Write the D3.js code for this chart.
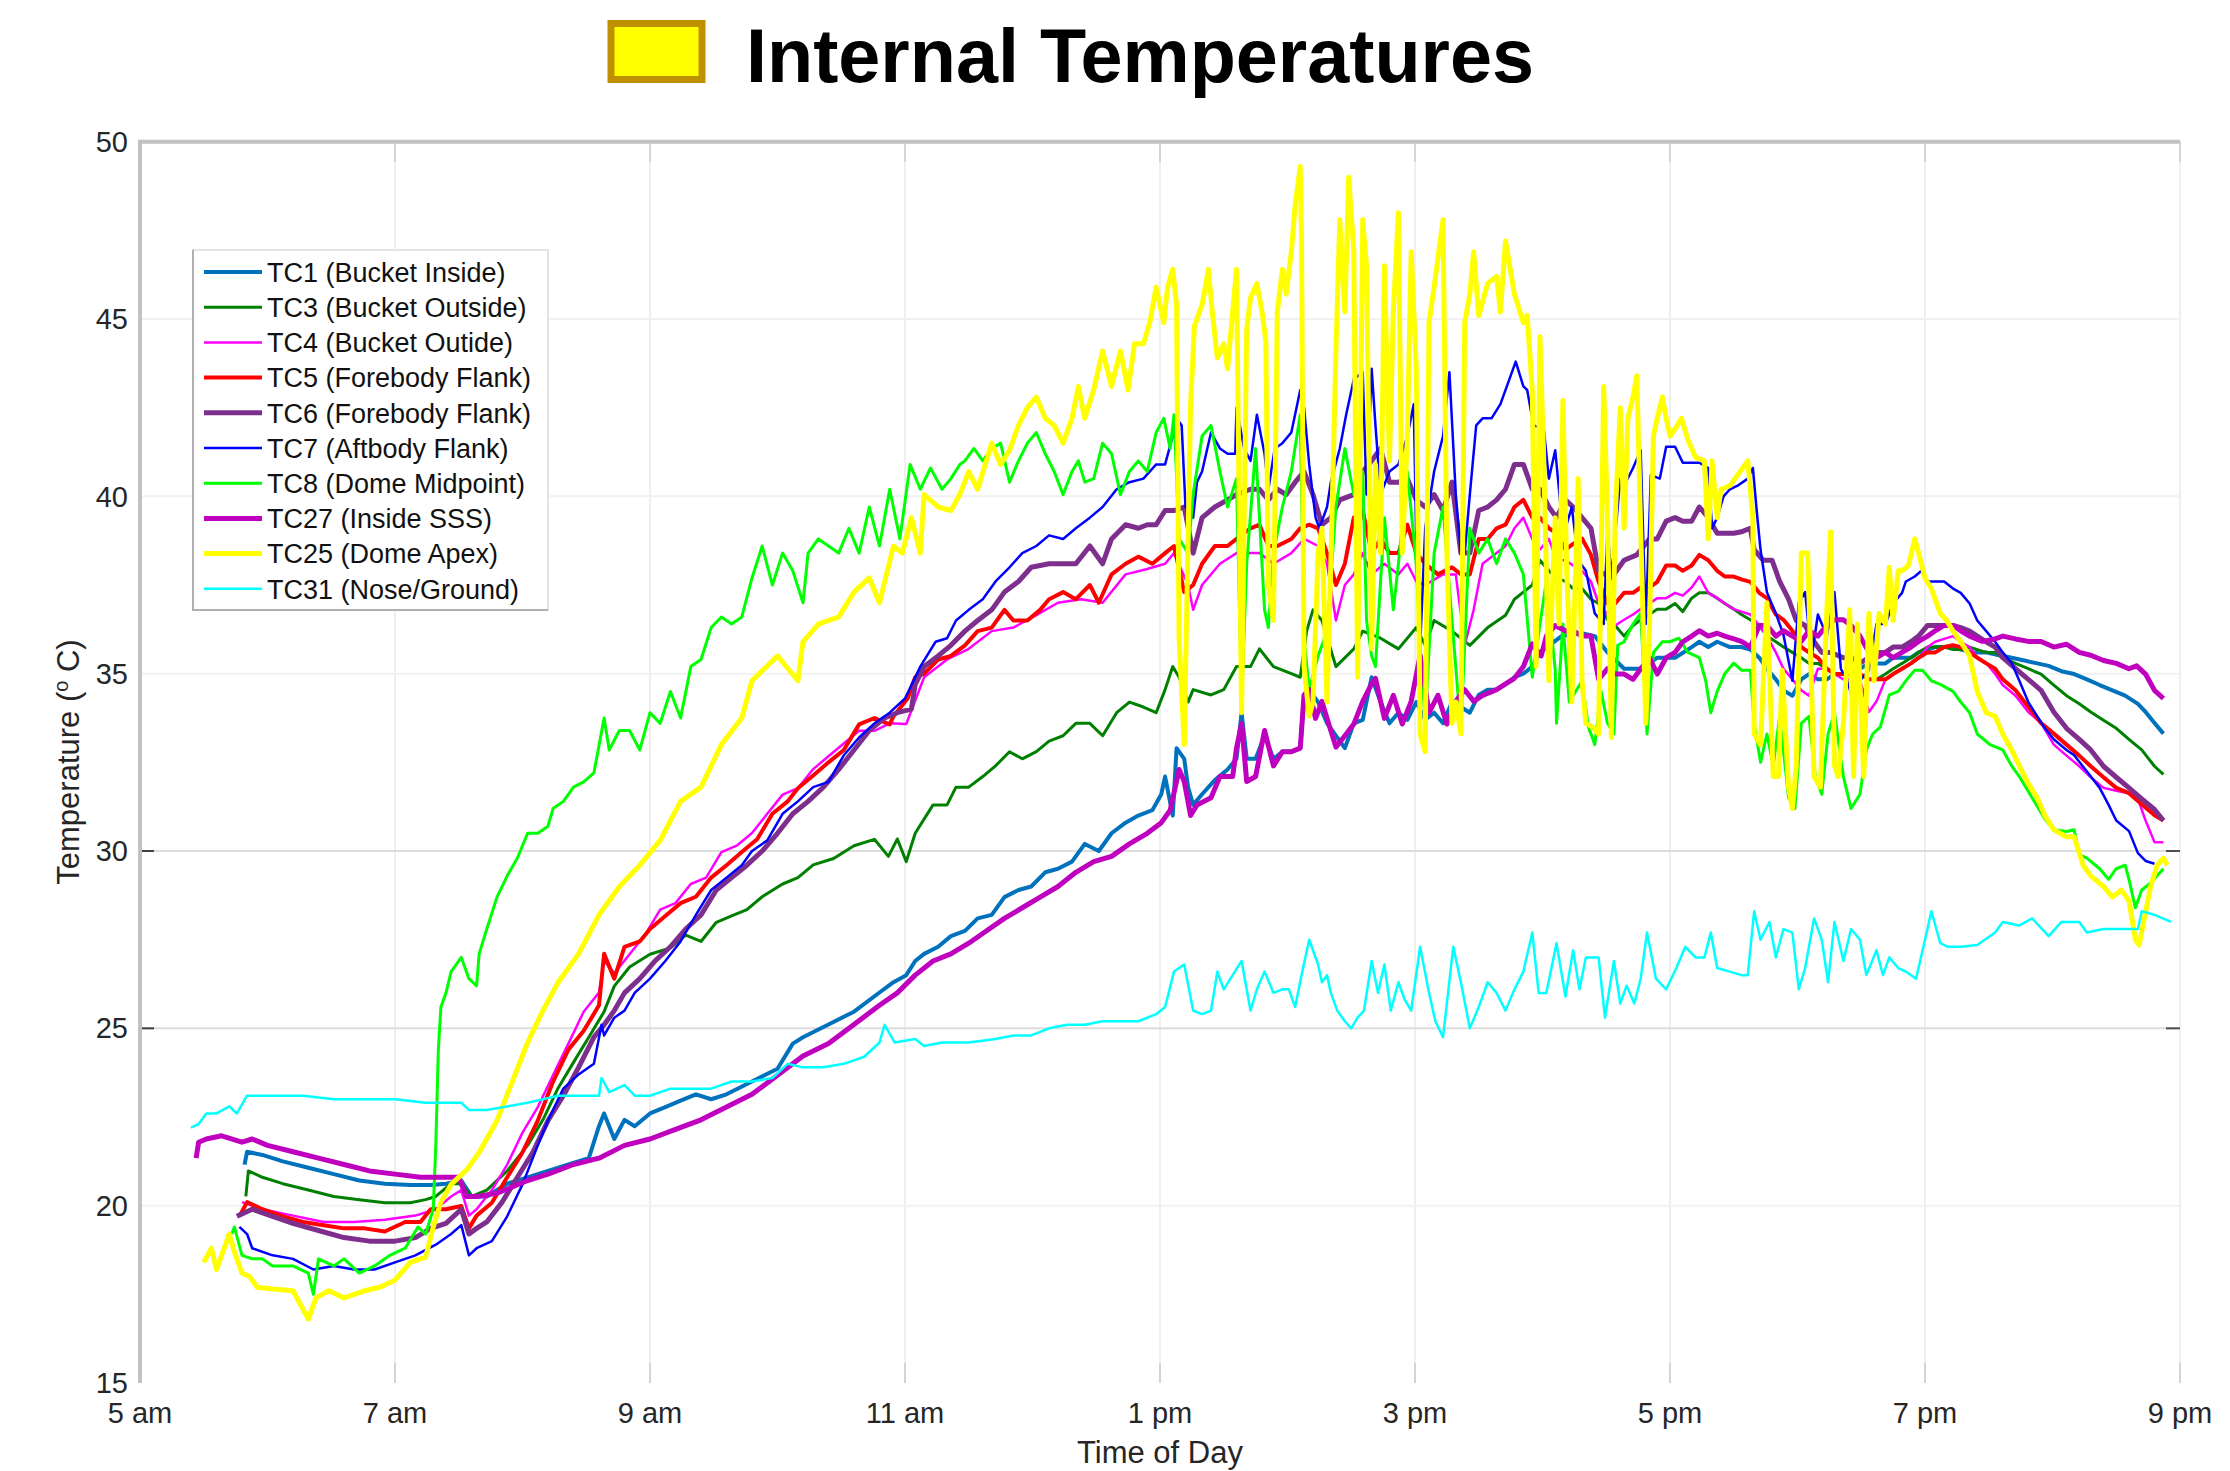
<!DOCTYPE html>
<html><head><meta charset="utf-8">
<script src="https://cdn.jsdelivr.net/npm/d3@7"></script>
<style>
body{margin:0;background:#fff;}
svg{display:block;font-family:"Liberation Sans",Arial,sans-serif;}
</style>
</head><body>
<svg id="chart" width="2230" height="1471"></svg>
<script>
// ---------- data ----------
const titleText = "Internal Temperatures";
const xTickHours = [5,7,9,11,13,15,17,19,21];
const xTickLabels = ["5 am","7 am","9 am","11 am","1 pm","3 pm","5 pm","7 pm","9 pm"];
const yTicks = [15,20,25,30,35,40,45,50];
const seriesNames = ["TC1 (Bucket Inside)","TC3 (Bucket Outside)","TC4  (Bucket Outide)","TC5 (Forebody Flank)","TC6 (Forebody Flank)","TC7 (Aftbody Flank)","TC8 (Dome Midpoint)","TC27 (Inside SSS)","TC25 (Dome Apex)","TC31 (Nose/Ground)"];

const TC1 = [[5.82,21.16],[5.84,21.52],[5.96,21.43],[6.12,21.25],[6.32,21.07],[6.52,20.89],[6.72,20.71],[6.92,20.62],[7.12,20.58],[7.28,20.58],[7.40,20.62],[7.52,20.71],[7.60,20.26],[7.72,20.26],[7.88,20.62],[8.04,20.8],[8.20,20.98],[8.36,21.16],[8.52,21.34],[8.60,22.24],[8.64,22.6],[8.72,21.88],[8.80,22.42],[8.88,22.24],[9.00,22.6],[9.12,22.78],[9.24,22.96],[9.36,23.14],[9.48,23.0],[9.60,23.14],[9.80,23.5],[10.00,23.86],[10.12,24.57],[10.20,24.75],[10.40,25.11],[10.60,25.47],[10.80,26.01],
[10.91,26.3],[11.01,26.5],[11.08,26.9],[11.15,27.1],[11.26,27.3],[11.36,27.6],[11.47,27.75],[11.57,28.1],[11.68,28.2],[11.78,28.7],[11.89,28.9],[11.99,29.0],[12.10,29.4],[12.20,29.5],[12.31,29.7],[12.41,30.2],[12.52,30.0],[12.62,30.5],[12.73,30.8],[12.83,31.0],[12.94,31.15],[13.01,31.6],[13.04,32.1],[13.10,31.0],[13.13,32.9],[13.19,32.6],[13.22,31.8],[13.26,31.3],[13.33,31.6],[13.43,32.0],[13.53,32.3],[13.60,32.6],[13.64,33.9],[13.68,32.6],[13.75,32.6],[13.82,33.25],[13.89,32.6],[13.96,32.8],[14.03,32.8],[14.10,32.9],[14.13,34.4],[14.17,34.55],[14.24,34.2],[14.31,33.6],[14.38,33.25],[14.45,32.9],[14.52,33.6],[14.59,33.7],[14.66,34.9],[14.73,34.2],[14.80,33.6],[14.87,33.9],[14.94,33.7],[15.01,34.2],[15.08,33.7],[15.15,33.9],[15.22,33.6],[15.29,34.2],[15.36,34.06],[15.43,33.9],[15.50,34.4],[15.57,34.55],[15.64,34.55],[15.71,34.7],[15.78,34.9],[15.85,35.0],[15.92,35.2],
[15.98,35.6],[16.15,36.06],[16.31,36.14],[16.41,36.06],[16.51,35.6],[16.64,35.14],[16.77,35.14],[16.90,35.45],[17.04,35.45],[17.17,35.75],[17.23,35.9],[17.30,35.75],[17.37,35.9],[17.47,35.75],[17.56,35.75],[17.63,35.68],[17.70,35.45],[17.76,35.14],[17.83,34.84],[17.89,34.53],[17.96,34.38],[18.03,34.84],[18.09,34.99],[18.16,34.84],[18.23,34.84],[18.29,34.99],[18.36,34.99],[18.42,34.99],[18.49,35.14],[18.56,35.29],[18.62,35.29],[18.69,35.29],[18.75,35.45],[18.82,35.45],[18.89,35.45],[18.95,35.6],[19.02,35.68],[19.08,35.75],[19.15,35.75],[19.22,35.75],[19.28,35.68],[19.38,35.6],[19.48,35.6],[19.58,35.52],[19.68,35.45],[19.78,35.37],[19.88,35.29],[19.97,35.22],[20.07,35.07],[20.17,34.99],[20.27,34.84],[20.37,34.68],[20.47,34.53],[20.57,34.38],[20.67,34.15],[20.73,33.92],[20.80,33.61],[20.87,33.31]];

const TC3 = [[5.83,20.26],[5.85,20.98],[5.96,20.8],[6.12,20.62],[6.32,20.44],[6.52,20.26],[6.72,20.17],[6.92,20.08],[7.12,20.08],[7.24,20.17],[7.32,20.26],[7.44,20.62],[7.52,20.62],[7.60,20.26],[7.72,20.44],[7.88,20.98],[8.04,21.7],[8.16,22.42],[8.28,23.32],[8.40,24.04],[8.52,24.75],[8.64,25.47],[8.72,26.19],[8.84,26.73],[9.00,27.09],[9.16,27.27],[9.28,27.63],[9.40,27.45],[9.52,27.99],[9.64,28.17],[9.76,28.35],[9.88,28.71],[10.04,29.07],[10.16,29.25],[10.28,29.61],[10.44,29.79],[10.60,30.15],[10.76,30.33],[10.87,29.85],[10.94,30.34],[11.01,29.7],[11.08,30.5],[11.22,31.3],
[11.33,31.3],[11.40,31.8],[11.50,31.8],[11.61,32.1],[11.71,32.4],[11.82,32.8],[11.92,32.6],[12.03,32.8],[12.13,33.1],[12.24,33.25],[12.34,33.6],[12.45,33.6],[12.55,33.25],[12.66,33.9],[12.76,34.2],[12.87,34.06],[12.97,33.9],[13.04,34.55],[13.10,35.2],[13.15,34.9],[13.22,34.2],[13.26,34.55],[13.40,34.4],[13.50,34.55],[13.60,35.2],[13.71,35.2],[13.78,35.7],[13.89,35.2],[14.03,35.0],[14.10,34.9],[14.15,36.2],[14.20,36.8],[14.27,36.5],[14.38,35.2],[14.52,35.7],[14.59,36.2],[14.73,36.0],[14.87,35.7],[15.01,36.3],[15.08,35.8],[15.15,36.5],[15.29,36.2],[15.43,35.8],[15.57,36.3],[15.71,36.65],[15.78,37.1],[15.85,37.3],[15.92,37.5],
[15.98,38.2],[16.05,37.9],[16.11,37.7],[16.18,37.6],[16.24,37.4],[16.31,37.4],[16.38,37.1],[16.44,36.98],[16.51,36.52],[16.57,36.36],[16.64,36.06],[16.71,36.36],[16.77,36.52],[16.84,36.67],[16.90,36.82],[16.97,36.82],[17.04,36.98],[17.10,36.75],[17.17,37.13],[17.23,37.28],[17.30,37.28],[17.37,37.13],[17.43,36.98],[17.50,36.82],[17.56,36.67],[17.63,36.52],[17.70,36.36],[17.76,36.06],[17.83,35.9],[17.89,35.75],[17.96,35.6],[18.03,35.45],[18.09,35.29],[18.16,35.29],[18.23,35.14],[18.29,34.99],[18.36,34.99],[18.42,34.99],[18.49,34.99],[18.56,34.84],[18.62,34.84],[18.69,34.99],[18.75,35.14],[18.82,35.29],[18.89,35.45],[18.95,35.6],[19.02,35.75],[19.08,35.75],[19.15,35.75],[19.22,35.68],[19.28,35.68],[19.35,35.75],[19.41,35.68],[19.48,35.6],[19.55,35.6],[19.61,35.45],[19.71,35.29],[19.81,35.14],[19.91,34.99],[20.01,34.68],[20.11,34.38],[20.21,34.15],[20.30,33.92],[20.40,33.69],[20.50,33.46],[20.60,33.15],[20.70,32.85],[20.80,32.39],[20.87,32.16]];

const TC4 = [[5.80,20.1],[5.96,19.9],[6.20,19.72],[6.44,19.54],[6.68,19.54],[6.92,19.6],[7.16,19.72],[7.32,19.9],[7.44,20.26],[7.52,20.44],[7.58,19.72],[7.64,19.9],[7.76,20.44],[7.88,21.16],[8.00,22.06],[8.12,22.78],[8.24,23.68],[8.36,24.57],[8.48,25.47],[8.60,26.01],[8.64,26.91],[8.72,26.55],[8.84,27.09],[8.96,27.63],[9.08,28.35],[9.20,28.53],[9.32,29.07],[9.44,29.25],[9.56,29.97],[9.68,30.15],[9.80,30.51],[9.92,31.05],[10.04,31.59],[10.16,31.77],[10.28,32.31],[10.40,32.67],[10.52,33.03],[10.64,33.39],[10.76,33.39],[10.88,33.6],
[11.01,33.58],[11.15,34.9],[11.33,35.4],[11.50,35.7],[11.68,36.2],[11.85,36.3],[12.03,36.65],[12.20,37.0],[12.38,37.1],[12.55,37.0],[12.73,37.8],[12.90,37.95],[13.04,38.1],[13.11,38.4],[13.22,37.5],[13.26,36.8],[13.33,37.5],[13.47,38.1],[13.60,38.4],[13.78,38.4],[13.89,38.1],[14.03,38.4],[14.13,38.8],[14.24,38.6],[14.31,38.1],[14.38,36.5],[14.45,37.5],[14.52,37.8],[14.59,38.4],[14.66,37.8],[14.76,38.1],[14.87,37.8],[14.94,38.1],[15.01,37.6],[15.08,37.5],[15.22,37.8],[15.32,37.8],[15.39,35.8],[15.46,36.8],[15.53,38.1],[15.64,38.4],[15.71,38.6],[15.78,39.1],[15.85,39.4],[15.92,38.8],
[15.98,38.5],[16.05,38.8],[16.11,38.2],[16.18,38.2],[16.24,38.05],[16.31,37.9],[16.38,37.6],[16.44,36.98],[16.51,36.67],[16.57,36.36],[16.64,36.52],[16.71,36.67],[16.77,36.82],[16.84,36.98],[16.90,37.13],[16.97,37.13],[17.04,37.28],[17.10,37.2],[17.17,37.43],[17.23,37.74],[17.30,37.28],[17.37,37.13],[17.43,36.98],[17.50,36.82],[17.56,36.75],[17.63,36.67],[17.70,36.36],[17.76,36.06],[17.83,35.6],[17.89,35.14],[17.96,34.84],[18.03,34.53],[18.09,34.38],[18.16,35.14],[18.23,35.14],[18.29,34.99],[18.36,34.84],[18.42,34.84],[18.49,34.84],[18.56,33.92],[18.62,34.22],[18.69,34.84],[18.75,34.99],[18.82,35.14],[18.89,35.29],[18.95,35.45],[19.02,35.75],[19.08,35.9],[19.15,35.98],[19.22,36.06],[19.28,35.9],[19.35,35.75],[19.41,35.45],[19.48,35.3],[19.55,34.99],[19.61,34.68],[19.71,34.38],[19.81,33.92],[19.91,33.61],[20.01,33.0],[20.11,32.69],[20.21,32.39],[20.30,32.08],[20.40,31.78],[20.50,31.7],[20.60,31.63],[20.67,31.47],[20.73,30.86],[20.80,30.25],[20.87,30.25]];

const TC5 = [[5.78,19.7],[5.84,20.1],[5.96,19.9],[6.12,19.7],[6.28,19.54],[6.44,19.45],[6.60,19.36],[6.76,19.36],[6.92,19.27],[7.08,19.54],[7.20,19.54],[7.28,19.9],[7.40,19.9],[7.52,19.99],[7.58,19.36],[7.64,19.72],[7.76,20.08],[7.88,20.8],[8.00,21.5],[8.12,22.4],[8.24,23.5],[8.36,24.4],[8.48,24.93],[8.60,25.65],[8.64,27.1],[8.72,26.4],[8.80,27.3],[8.92,27.45],[9.00,27.8],[9.12,28.17],[9.24,28.53],[9.36,28.71],[9.48,29.25],[9.60,29.6],[9.72,29.97],[9.84,30.33],[9.96,31.05],[10.08,31.4],[10.16,31.77],[10.28,32.13],[10.40,32.5],[10.52,32.85],[10.64,33.57],[10.76,33.75],[10.88,33.57],
[10.91,33.8],[11.02,34.3],[11.08,34.9],[11.15,35.0],[11.26,35.4],[11.36,35.5],[11.47,35.8],[11.57,36.2],[11.68,36.3],[11.78,36.8],[11.85,36.5],[11.96,36.5],[12.06,36.8],[12.13,37.1],[12.24,37.3],[12.34,37.1],[12.45,37.5],[12.52,37.0],[12.62,37.8],[12.73,38.1],[12.83,38.3],[12.94,38.1],[13.04,38.4],[13.11,38.6],[13.19,37.3],[13.26,37.5],[13.33,38.1],[13.43,38.6],[13.53,38.6],[13.60,38.8],[13.71,39.1],[13.78,39.2],[13.85,38.6],[13.92,38.6],[14.03,38.8],[14.10,39.1],[14.17,39.2],[14.24,39.1],[14.31,38.4],[14.38,37.5],[14.45,38.1],[14.52,39.4],[14.59,39.6],[14.66,38.4],[14.73,38.8],[14.80,38.4],[14.87,38.4],[14.94,39.2],[15.01,38.4],[15.08,38.1],[15.18,37.8],[15.29,38.0],[15.36,37.8],[15.43,37.8],[15.50,38.8],[15.57,38.8],[15.64,39.1],[15.71,39.2],[15.78,39.7],[15.85,39.9],[15.92,39.4],
[15.98,39.4],[16.05,39.1],[16.11,38.96],[16.18,38.5],[16.24,38.66],[16.31,38.81],[16.38,38.35],[16.44,37.59],[16.51,36.98],[16.57,36.98],[16.64,37.28],[16.71,37.28],[16.77,37.43],[16.84,37.43],[16.90,37.59],[16.97,38.05],[17.04,38.05],[17.10,37.9],[17.17,38.05],[17.23,38.35],[17.30,38.2],[17.37,37.9],[17.43,37.74],[17.50,37.74],[17.56,37.66],[17.63,37.59],[17.70,37.28],[17.76,37.13],[17.83,36.67],[17.89,36.52],[17.96,36.21],[18.03,35.75],[18.09,35.6],[18.16,35.45],[18.23,35.14],[18.29,34.99],[18.36,34.99],[18.42,34.99],[18.49,34.99],[18.56,34.84],[18.62,34.84],[18.69,34.84],[18.75,34.99],[18.82,35.14],[18.89,35.29],[18.95,35.45],[19.02,35.6],[19.08,35.6],[19.15,35.75],[19.22,35.8],[19.28,35.75],[19.35,35.6],[19.41,35.45],[19.48,35.29],[19.55,35.14],[19.61,34.84],[19.71,34.53],[19.81,34.07],[19.91,33.61],[20.01,33.31],[20.11,33.0],[20.21,32.69],[20.30,32.39],[20.40,32.08],[20.50,31.78],[20.60,31.63],[20.70,31.32],[20.80,31.01],[20.87,30.86]];

const TC6 = [[5.76,19.7],[5.88,19.9],[6.04,19.7],[6.20,19.5],[6.40,19.3],[6.60,19.1],[6.80,19.0],[7.00,19.0],[7.16,19.1],[7.28,19.36],[7.40,19.5],[7.52,19.9],[7.58,19.2],[7.64,19.36],[7.72,19.54],[7.84,20.1],[7.96,20.8],[8.08,21.5],[8.20,22.4],[8.32,23.1],[8.44,23.9],[8.56,24.75],[8.64,25.1],[8.72,25.5],[8.80,26.0],[8.92,26.4],[9.04,26.9],[9.16,27.3],[9.28,27.8],[9.40,28.2],[9.52,28.9],[9.64,29.25],[9.76,29.6],[9.88,30.0],[10.00,30.5],[10.12,31.05],[10.24,31.4],[10.36,31.8],[10.48,32.3],[10.60,32.85],[10.72,33.4],[10.84,33.75],
[10.94,33.9],[11.05,34.0],[11.08,34.7],[11.15,35.2],[11.26,35.5],[11.36,35.8],[11.47,36.2],[11.57,36.5],[11.68,36.8],[11.78,37.3],[11.89,37.6],[11.99,38.0],[12.13,38.1],[12.24,38.1],[12.34,38.1],[12.45,38.6],[12.55,38.1],[12.62,38.8],[12.73,39.2],[12.83,39.1],[12.90,39.2],[12.97,39.2],[13.04,39.6],[13.11,39.6],[13.19,39.7],[13.26,38.4],[13.33,39.4],[13.43,39.7],[13.53,39.9],[13.60,40.05],[13.71,40.2],[13.78,40.2],[13.85,39.9],[13.92,40.2],[13.99,40.05],[14.06,40.4],[14.13,40.7],[14.20,40.05],[14.27,39.2],[14.34,39.4],[14.41,39.9],[14.52,40.05],[14.59,40.7],[14.66,41.0],[14.73,41.35],[14.80,40.4],[14.87,40.4],[14.94,40.5],[15.01,39.9],[15.08,39.7],[15.15,40.05],[15.22,39.6],[15.29,40.4],[15.36,38.4],[15.43,38.4],[15.50,39.6],[15.57,39.7],[15.64,39.9],[15.71,40.2],[15.78,40.9],[15.85,40.9],[15.92,40.2],
[15.98,40.2],[16.05,39.7],[16.11,39.4],[16.18,39.9],[16.24,39.7],[16.31,39.4],[16.38,39.1],[16.44,37.9],[16.54,37.7],[16.64,38.2],[16.74,38.35],[16.84,38.8],[16.90,38.8],[16.97,39.3],[17.04,39.4],[17.10,39.3],[17.17,39.3],[17.23,39.7],[17.30,39.4],[17.37,38.96],[17.43,38.96],[17.50,38.96],[17.56,39.0],[17.63,39.1],[17.66,38.5],[17.73,38.2],[17.80,38.2],[17.86,37.6],[17.93,37.1],[17.99,36.5],[18.06,36.36],[18.13,35.9],[18.19,35.6],[18.26,35.6],[18.36,35.45],[18.42,35.45],[18.49,35.3],[18.56,35.45],[18.62,35.6],[18.69,35.6],[18.75,35.75],[18.82,35.75],[18.89,35.9],[18.95,36.06],[19.02,36.36],[19.08,36.36],[19.15,36.36],[19.22,36.36],[19.28,36.3],[19.35,36.2],[19.41,36.06],[19.48,35.9],[19.55,35.75],[19.61,35.45],[19.71,35.14],[19.81,34.84],[19.91,34.53],[20.01,33.92],[20.11,33.46],[20.21,33.15],[20.30,32.85],[20.40,32.39],[20.50,32.08],[20.60,31.78],[20.70,31.47],[20.80,31.17],[20.87,30.86]];

const TC7 = [[5.78,19.4],[5.84,19.2],[5.88,18.8],[6.04,18.6],[6.20,18.5],[6.36,18.2],[6.52,18.3],[6.68,18.2],[6.84,18.2],[7.00,18.4],[7.16,18.6],[7.32,18.9],[7.44,19.2],[7.52,19.45],[7.58,18.6],[7.64,18.8],[7.76,19.0],[7.88,19.7],[8.00,20.6],[8.12,21.7],[8.20,22.4],[8.32,23.3],[8.44,23.7],[8.56,24.0],[8.62,25.1],[8.64,24.8],[8.72,25.3],[8.80,25.5],[8.88,26.0],[9.00,26.4],[9.12,26.9],[9.24,27.45],[9.36,28.2],[9.48,28.9],[9.60,29.25],[9.72,29.6],[9.80,30.0],[9.92,30.3],[10.04,31.05],[10.16,31.4],[10.28,31.8],[10.40,31.95],[10.52,32.7],[10.64,33.2],[10.76,33.6],[10.88,33.9],[11.00,34.3],[11.12,35.2],[11.24,35.9],
[11.33,36.0],[11.40,36.5],[11.50,36.8],[11.61,37.1],[11.71,37.6],[11.82,38.0],[11.92,38.4],[12.03,38.6],[12.13,38.9],[12.24,38.8],[12.34,39.1],[12.45,39.4],[12.55,39.7],[12.66,40.2],[12.76,40.4],[12.87,40.5],[12.97,40.9],[13.04,40.9],[13.10,41.7],[13.13,42.2],[13.17,42.0],[13.20,39.7],[13.26,39.4],[13.29,40.4],[13.33,40.7],[13.40,41.8],[13.47,41.35],[13.53,41.2],[13.59,41.2],[13.60,42.5],[13.66,41.35],[13.71,41.0],[13.76,42.3],[13.82,41.2],[13.85,40.2],[13.90,41.35],[13.96,41.5],[14.03,41.8],[14.10,43.0],[14.13,42.5],[14.17,40.9],[14.22,39.4],[14.25,39.1],[14.31,39.7],[14.34,40.4],[14.41,41.35],[14.46,42.3],[14.52,43.3],[14.59,43.5],[14.62,40.05],[14.66,43.6],[14.69,42.0],[14.73,40.05],[14.80,40.7],[14.87,40.9],[14.94,41.7],[14.99,42.6],[15.01,38.8],[15.04,35.7],[15.08,39.1],[15.15,40.7],[15.22,41.7],[15.27,43.5],[15.32,40.05],[15.36,38.4],[15.39,38.4],[15.43,40.05],[15.48,42.0],[15.53,42.2],[15.60,42.2],[15.67,42.6],[15.74,43.3],[15.79,43.8],[15.85,43.1],[15.88,43.0],[15.93,42.0],
[16.01,41.9],[16.05,40.5],[16.10,41.3],[16.15,39.4],[16.18,39.1],[16.23,39.7],[16.28,38.2],[16.34,37.9],[16.41,36.7],[16.48,36.4],[16.51,39.1],[16.54,37.7],[16.61,40.5],[16.64,40.3],[16.71,40.8],[16.77,41.3],[16.81,36.4],[16.85,40.6],[16.92,40.5],[16.97,41.4],[17.04,41.4],[17.10,40.95],[17.17,40.95],[17.23,40.95],[17.30,40.8],[17.33,39.1],[17.37,39.4],[17.42,40.0],[17.47,40.2],[17.53,40.3],[17.61,40.5],[17.65,40.8],[17.68,39.6],[17.71,38.5],[17.76,37.3],[17.83,36.7],[17.89,36.1],[17.96,34.8],[18.01,37.0],[18.06,37.3],[18.11,35.45],[18.16,36.67],[18.23,36.06],[18.29,37.3],[18.34,35.14],[18.39,34.8],[18.44,34.2],[18.49,34.8],[18.56,35.1],[18.62,36.4],[18.69,36.4],[18.75,36.98],[18.82,37.28],[18.85,37.6],[18.92,37.74],[18.97,37.9],[19.02,37.6],[19.08,37.6],[19.15,37.6],[19.22,37.4],[19.28,37.28],[19.35,36.98],[19.41,36.5],[19.48,36.2],[19.55,35.9],[19.61,35.6],[19.68,35.3],[19.74,34.8],[19.81,34.2],[19.88,33.8],[19.94,33.46],[20.01,33.15],[20.11,32.85],[20.17,32.7],[20.27,32.24],[20.37,31.78],[20.44,31.3],[20.50,30.86],[20.60,30.56],[20.67,29.94],[20.73,29.72],[20.80,29.64]];

const TC8 = [[5.72,19.2],[5.74,19.4],[5.80,18.6],[5.88,18.5],[5.96,18.5],[6.04,18.3],[6.20,18.3],[6.32,18.1],[6.36,17.5],[6.40,18.5],[6.52,18.3],[6.60,18.5],[6.72,18.1],[6.84,18.3],[6.96,18.6],[7.08,18.8],[7.18,19.4],[7.24,19.2],[7.30,19.9],[7.32,21.7],[7.34,24.4],[7.36,25.6],[7.40,26.0],[7.44,26.6],[7.52,27.0],[7.58,26.4],[7.64,26.2],[7.66,27.1],[7.72,27.8],[7.80,28.7],[7.88,29.3],[7.96,29.8],[8.04,30.5],[8.12,30.5],[8.20,30.7],[8.24,31.2],[8.32,31.4],[8.40,31.8],[8.48,31.95],[8.56,32.2],[8.64,33.75],[8.68,32.85],[8.76,33.4],[8.84,33.4],[8.92,32.85],[9.00,33.9],[9.08,33.6],[9.16,34.5],[9.24,33.75],[9.32,35.2],[9.40,35.4],[9.48,36.3],[9.56,36.6],[9.64,36.4],[9.72,36.6],[9.80,37.7],[9.88,38.6],[9.96,37.5],[10.04,38.4],[10.12,37.9],[10.20,37.0],[10.24,38.4],[10.32,38.8],[10.40,38.6],[10.48,38.4],[10.56,39.1],[10.64,38.4],[10.72,39.7],[10.80,38.6],[10.88,40.2],[10.96,38.8],[11.04,40.9],[11.12,40.2],[11.20,40.8],[11.29,40.2],
[11.36,40.5],[11.43,40.9],[11.47,41.0],[11.54,41.35],[11.61,41.0],[11.68,41.35],[11.75,41.5],[11.82,40.4],[11.89,41.0],[11.96,41.5],[12.03,41.8],[12.10,41.2],[12.17,40.7],[12.24,40.05],[12.31,40.7],[12.36,41.0],[12.41,40.4],[12.48,40.5],[12.55,41.5],[12.62,41.2],[12.69,40.05],[12.76,40.7],[12.83,41.0],[12.90,40.7],[12.97,41.8],[13.03,42.2],[13.08,41.35],[13.11,42.3],[13.15,38.8],[13.22,38.4],[13.26,40.05],[13.33,41.7],[13.40,42.0],[13.47,40.7],[13.53,39.7],[13.60,40.5],[13.64,34.2],[13.68,38.1],[13.75,41.35],[13.82,36.8],[13.85,36.3],[13.89,38.4],[13.96,39.7],[14.03,40.7],[14.10,42.3],[14.13,36.0],[14.17,34.55],[14.24,35.5],[14.31,36.2],[14.38,39.7],[14.45,41.35],[14.52,40.05],[14.59,40.7],[14.62,36.5],[14.66,35.5],[14.69,35.2],[14.76,39.4],[14.83,36.8],[14.87,38.1],[14.94,40.7],[15.01,38.1],[15.04,35.8],[15.08,33.6],[15.15,38.4],[15.22,39.7],[15.29,36.5],[15.36,33.4],[15.43,39.1],[15.50,38.4],[15.57,38.8],[15.64,38.1],[15.71,38.8],[15.78,38.4],[15.85,37.8],[15.92,34.9],
[15.98,36.4],[16.03,37.6],[16.10,35.1],[16.11,33.6],[16.16,36.4],[16.21,34.2],[16.26,34.5],[16.31,34.8],[16.36,33.5],[16.41,33.0],[16.46,34.5],[16.51,33.6],[16.56,33.3],[16.59,35.8],[16.64,35.9],[16.71,36.4],[16.77,36.7],[16.82,33.3],[16.87,35.6],[16.94,35.9],[17.00,35.9],[17.07,36.0],[17.14,35.6],[17.23,35.45],[17.28,34.8],[17.32,33.9],[17.37,34.5],[17.43,35.0],[17.50,35.3],[17.56,35.1],[17.63,35.1],[17.66,33.6],[17.71,32.5],[17.76,33.3],[17.81,32.4],[17.86,33.8],[17.93,31.5],[17.98,31.2],[18.03,33.6],[18.09,33.8],[18.14,32.1],[18.19,31.6],[18.24,33.3],[18.29,33.9],[18.36,32.1],[18.42,31.2],[18.49,31.6],[18.54,32.85],[18.59,33.3],[18.65,33.5],[18.72,34.4],[18.79,34.5],[18.85,34.8],[18.92,35.1],[18.98,35.1],[19.05,34.8],[19.12,34.7],[19.22,34.5],[19.28,34.2],[19.35,33.9],[19.41,33.3],[19.51,33.0],[19.61,32.85],[19.68,32.4],[19.74,32.1],[19.84,31.5],[19.94,30.9],[20.01,30.6],[20.11,30.55],[20.17,30.6],[20.21,29.9],[20.27,29.8],[20.37,29.5],[20.44,29.2],[20.50,29.5],[20.57,29.6],[20.60,29.2],[20.65,28.4],[20.70,28.9],[20.77,29.1],[20.82,29.3],[20.87,29.5]];

const TC27 = [[5.44,21.34],[5.46,21.79],[5.52,21.88],[5.64,21.97],[5.80,21.79],[5.88,21.88],[6.00,21.7],[6.20,21.52],[6.40,21.34],[6.60,21.16],[6.80,20.98],[7.00,20.89],[7.20,20.8],[7.40,20.8],[7.50,20.8],[7.56,20.26],[7.64,20.26],[7.80,20.35],[7.92,20.53],[8.04,20.71],[8.20,20.89],[8.40,21.16],[8.60,21.34],[8.80,21.7],[9.00,21.88],[9.20,22.15],[9.40,22.42],[9.60,22.78],[9.80,23.14],[10.00,23.68],[10.20,24.22],[10.40,24.57],[10.60,25.11],[10.80,25.65],
[10.94,26.0],[11.08,26.5],[11.22,26.9],[11.36,27.1],[11.50,27.4],[11.64,27.75],[11.78,28.1],[11.92,28.4],[12.06,28.7],[12.20,29.0],[12.34,29.4],[12.48,29.7],[12.62,29.85],[12.76,30.2],[12.90,30.5],[13.01,30.8],[13.08,31.15],[13.15,32.3],[13.19,31.96],[13.24,31.0],[13.29,31.3],[13.40,31.5],[13.47,32.1],[13.57,32.1],[13.60,32.9],[13.64,33.6],[13.68,31.96],[13.75,32.1],[13.82,33.4],[13.89,32.4],[13.96,32.8],[14.03,32.8],[14.10,32.9],[14.13,34.4],[14.17,34.55],[14.22,33.74],[14.27,34.22],[14.31,33.74],[14.38,32.93],[14.45,33.25],[14.52,33.58],[14.59,34.22],[14.66,34.71],[14.69,34.87],[14.76,33.74],[14.83,34.39],[14.90,33.58],[14.97,34.22],[15.04,35.52],[15.11,33.9],[15.18,34.39],[15.25,33.58],[15.32,34.22],[15.39,34.55],[15.46,34.22],[15.53,34.39],[15.64,34.55],[15.71,34.71],[15.78,34.87],[15.85,35.2],[15.92,35.84],[15.99,35.5],
[16.03,36.06],[16.10,36.36],[16.18,36.21],[16.24,36.21],[16.31,36.06],[16.38,36.06],[16.44,34.84],[16.51,35.14],[16.57,34.99],[16.64,34.99],[16.71,34.84],[16.77,35.14],[16.84,35.45],[16.90,34.99],[16.97,35.45],[17.04,35.6],[17.10,35.9],[17.17,36.06],[17.23,36.21],[17.30,36.06],[17.37,36.14],[17.43,36.06],[17.50,35.98],[17.56,35.91],[17.63,35.75],[17.70,36.36],[17.76,36.36],[17.83,36.06],[17.89,36.21],[17.96,36.06],[18.03,35.91],[18.09,36.21],[18.16,36.06],[18.23,36.36],[18.29,36.52],[18.36,36.52],[18.42,36.36],[18.49,36.06],[18.56,35.6],[18.62,35.45],[18.69,35.6],[18.75,35.45],[18.82,35.6],[18.89,35.75],[18.95,35.91],[19.02,36.06],[19.08,36.21],[19.15,36.36],[19.22,36.36],[19.28,36.21],[19.35,36.06],[19.45,35.91],[19.55,35.98],[19.61,36.06],[19.71,35.98],[19.81,35.91],[19.91,35.91],[20.01,35.75],[20.11,35.83],[20.21,35.6],[20.30,35.52],[20.40,35.37],[20.50,35.29],[20.60,35.14],[20.66,35.22],[20.73,34.99],[20.80,34.53],[20.87,34.3]];

const TC25 = [[5.50,18.4],[5.56,18.8],[5.60,18.2],[5.70,19.2],[5.74,18.7],[5.80,18.1],[5.86,18.0],[5.92,17.7],[6.04,17.65],[6.20,17.6],[6.32,16.8],[6.38,17.4],[6.48,17.6],[6.60,17.4],[6.76,17.6],[6.88,17.7],[7.00,17.9],[7.12,18.4],[7.24,18.55],[7.30,19.4],[7.36,20.1],[7.44,20.6],[7.56,21.0],[7.66,21.5],[7.80,22.4],[7.92,23.5],[8.04,24.6],[8.16,25.5],[8.28,26.3],[8.44,27.1],[8.60,28.2],[8.76,29.0],[8.92,29.6],[9.08,30.3],[9.24,31.4],[9.40,31.8],[9.56,33.0],[9.72,33.75],[9.80,34.8],[10.00,35.5],[10.16,34.8],[10.20,35.9],[10.32,36.4],[10.48,36.6],[10.60,37.3],[10.72,37.7],[10.80,37.0],
[10.91,38.6],[10.98,38.4],[11.05,39.4],[11.12,38.4],[11.15,40.05],[11.26,39.7],[11.36,39.6],[11.43,40.05],[11.50,40.7],[11.57,40.2],[11.68,41.5],[11.75,40.9],[11.82,41.3],[11.89,42.0],[11.96,42.5],[12.03,42.8],[12.10,42.2],[12.17,42.0],[12.24,41.5],[12.31,42.2],[12.36,43.1],[12.41,42.2],[12.48,43.0],[12.55,44.1],[12.62,43.1],[12.69,44.1],[12.75,43.0],[12.80,44.3],[12.87,44.3],[12.92,44.9],[12.97,45.9],[13.03,44.9],[13.06,45.9],[13.10,46.4],[13.13,45.4],[13.15,36.0],[13.19,33.0],[13.24,42.6],[13.27,44.8],[13.33,45.4],[13.38,46.4],[13.41,45.2],[13.45,43.9],[13.50,44.3],[13.53,43.6],[13.60,46.4],[13.64,33.9],[13.68,44.7],[13.71,45.6],[13.76,46.0],[13.80,45.2],[13.83,44.4],[13.85,37.5],[13.89,36.5],[13.92,45.2],[13.96,46.4],[13.99,45.7],[14.03,46.9],[14.06,48.2],[14.10,49.3],[14.11,47.3],[14.13,35.2],[14.17,33.8],[14.20,34.2],[14.24,38.4],[14.27,39.1],[14.31,34.2],[14.34,38.1],[14.38,44.1],[14.41,47.8],[14.45,45.2],[14.48,49.0],[14.52,46.9],[14.55,34.9],[14.59,47.8],[14.62,46.5],[14.66,35.7],[14.69,40.9],[14.73,38.4],[14.76,46.5],[14.80,41.0],[14.83,45.2],[14.87,48.0],[14.90,38.4],[14.94,41.7],[14.97,46.9],[15.01,43.6],[15.04,33.3],[15.08,32.8],[15.11,44.9],[15.15,45.9],[15.22,47.8],[15.25,38.4],[15.29,33.6],[15.32,34.2],[15.36,33.3],[15.39,44.9],[15.43,45.7],[15.46,46.9],[15.50,45.1],[15.57,46.0],[15.64,46.2],[15.67,45.2],[15.71,47.2],[15.78,45.7],[15.85,44.9],[15.88,45.1],[15.92,43.0],[15.95,35.2],
[15.98,44.5],[16.01,41.0],[16.05,34.8],[16.10,39.4],[16.13,36.4],[16.16,42.7],[16.19,37.9],[16.23,34.2],[16.28,40.5],[16.31,34.8],[16.34,33.6],[16.39,33.5],[16.44,33.3],[16.48,43.1],[16.51,39.4],[16.54,33.2],[16.57,39.4],[16.61,42.5],[16.64,39.1],[16.67,42.2],[16.71,42.8],[16.74,43.4],[16.77,39.1],[16.81,33.6],[16.84,36.4],[16.87,41.7],[16.90,42.2],[16.94,42.8],[16.97,42.2],[17.00,41.7],[17.04,41.9],[17.09,42.2],[17.14,41.6],[17.20,41.1],[17.27,41.0],[17.30,38.8],[17.33,41.0],[17.37,39.4],[17.40,40.2],[17.47,40.3],[17.53,40.6],[17.61,41.0],[17.65,39.4],[17.66,33.3],[17.71,33.0],[17.76,37.0],[17.81,32.1],[17.85,32.1],[17.88,35.1],[17.93,31.8],[17.96,31.2],[17.99,32.4],[18.03,38.4],[18.08,38.4],[18.13,32.1],[18.18,31.8],[18.23,36.8],[18.26,39.0],[18.29,32.4],[18.32,32.1],[18.36,33.6],[18.41,36.8],[18.44,32.1],[18.47,36.4],[18.52,32.1],[18.56,36.7],[18.60,34.8],[18.64,36.7],[18.69,36.4],[18.72,38.0],[18.75,36.5],[18.79,37.9],[18.82,37.9],[18.87,38.05],[18.92,38.8],[18.95,38.4],[19.00,37.7],[19.05,37.4],[19.12,36.7],[19.17,36.5],[19.22,36.2],[19.28,35.9],[19.35,35.5],[19.41,34.5],[19.48,33.9],[19.55,33.8],[19.61,33.3],[19.68,32.85],[19.74,32.4],[19.81,31.9],[19.88,31.5],[19.94,31.0],[20.01,30.6],[20.11,30.4],[20.17,30.4],[20.24,29.6],[20.30,29.3],[20.40,29.0],[20.47,28.7],[20.54,28.9],[20.60,28.6],[20.65,27.5],[20.68,27.35],[20.72,28.1],[20.77,29.0],[20.82,29.6],[20.87,29.8],[20.90,29.6]];

const TC31 = [[5.40,22.2],[5.46,22.3],[5.52,22.6],[5.60,22.6],[5.70,22.8],[5.76,22.6],[5.84,23.1],[5.92,23.1],[6.08,23.1],[6.28,23.1],[6.52,23.0],[6.72,23.0],[7.00,23.0],[7.24,22.9],[7.40,22.9],[7.52,22.9],[7.58,22.7],[7.72,22.7],[7.88,22.8],[8.04,22.9],[8.16,23.0],[8.28,23.1],[8.44,23.1],[8.60,23.1],[8.62,23.6],[8.68,23.2],[8.80,23.4],[8.88,23.1],[9.00,23.1],[9.16,23.3],[9.32,23.3],[9.48,23.3],[9.64,23.5],[9.80,23.5],[9.96,23.6],[10.08,24.0],[10.20,23.9],[10.36,23.9],[10.52,24.0],[10.68,24.2],[10.80,24.6],[10.84,25.1],[10.92,24.6],
[11.08,24.7],[11.15,24.5],[11.29,24.6],[11.50,24.6],[11.71,24.7],[11.85,24.8],[11.99,24.8],[12.13,25.0],[12.27,25.1],[12.41,25.1],[12.55,25.2],[12.69,25.2],[12.83,25.2],[12.97,25.4],[13.04,25.6],[13.11,26.6],[13.19,26.8],[13.26,25.5],[13.33,25.4],[13.40,25.5],[13.45,26.6],[13.50,26.1],[13.57,26.5],[13.64,26.9],[13.71,25.5],[13.76,26.1],[13.82,26.6],[13.89,26.0],[13.96,26.1],[14.01,26.1],[14.06,25.6],[14.11,26.5],[14.17,27.5],[14.24,26.8],[14.27,26.3],[14.31,26.5],[14.34,26.0],[14.39,25.5],[14.45,25.2],[14.50,25.0],[14.55,25.3],[14.60,25.5],[14.66,26.9],[14.71,26.0],[14.76,26.8],[14.81,25.5],[14.87,26.3],[14.92,25.8],[14.97,25.5],[15.04,27.3],[15.11,26.0],[15.16,25.2],[15.22,24.75],[15.30,27.3],[15.36,26.3],[15.43,25.0],[15.50,25.6],[15.57,26.3],[15.64,26.0],[15.71,25.5],[15.78,26.1],[15.85,26.6],[15.92,27.7],[15.97,26.0],
[16.03,26.0],[16.11,27.4],[16.18,25.9],[16.24,27.2],[16.29,26.1],[16.34,27.0],[16.44,27.0],[16.49,25.3],[16.56,26.9],[16.61,25.7],[16.66,26.2],[16.72,25.7],[16.77,26.4],[16.82,27.7],[16.89,26.4],[16.97,26.1],[17.05,26.7],[17.12,27.3],[17.20,27.0],[17.27,27.0],[17.32,27.7],[17.37,26.7],[17.47,26.6],[17.56,26.5],[17.61,26.5],[17.66,28.3],[17.71,27.5],[17.78,28.0],[17.83,27.0],[17.89,27.8],[17.96,27.7],[18.01,26.1],[18.06,26.7],[18.13,28.1],[18.19,27.5],[18.24,26.3],[18.29,28.0],[18.36,26.9],[18.42,27.8],[18.49,27.5],[18.54,26.5],[18.62,27.2],[18.67,26.5],[18.72,27.0],[18.79,26.7],[18.85,26.6],[18.93,26.4],[19.00,27.5],[19.05,28.3],[19.12,27.4],[19.18,27.3],[19.28,27.3],[19.41,27.35],[19.55,27.7],[19.61,28.0],[19.74,27.9],[19.84,28.1],[19.97,27.6],[20.07,28.0],[20.21,28.0],[20.27,27.7],[20.40,27.8],[20.54,27.8],[20.67,27.8],[20.70,28.3],[20.80,28.2],[20.93,28.0]];

const seriesData = [TC1, TC3, TC4, TC5, TC6, TC7, TC8, TC27, TC25, TC31];

// ---------- styles ----------
const seriesColors = ["#0072bd","#008000","#ff00ff","#ff0000","#7e2f8e","#0000ff","#00ff00","#bf00bf","#ffff00","#00ffff"];
const seriesWidths = [4,3,2.5,4,5,2.5,3,5,5,2.5];

// ---------- layout ----------
const svg = d3.select("#chart");
const L = 140, R = 2180, T = 141.7, B = 1383;
const x = d3.scaleLinear().domain([5,21]).range([L,R]);
const y = d3.scaleLinear().domain([15,50]).range([B,T]);

// title
svg.append("rect").attr("x",611).attr("y",23.5).attr("width",91).attr("height",56)
  .attr("fill","#ffff00").attr("stroke","#bf9000").attr("stroke-width",7);
svg.append("text").attr("x",746).attr("y",82).attr("font-size",76).attr("font-weight","bold")
  .attr("fill","#000").attr("textLength",788).attr("lengthAdjust","spacingAndGlyphs").text(titleText);

// grid
const grid = svg.append("g");
xTickHours.slice(1).forEach(h => {
  grid.append("line").attr("x1",x(h)).attr("x2",x(h)).attr("y1",T).attr("y2",B)
    .attr("stroke","#efefef").attr("stroke-width",2);
  grid.append("line").attr("x1",x(h)).attr("x2",x(h)).attr("y1",T).attr("y2",T+20)
    .attr("stroke","#d4d4d4").attr("stroke-width",2);
  grid.append("line").attr("x1",x(h)).attr("x2",x(h)).attr("y1",B-20).attr("y2",B)
    .attr("stroke","#d4d4d4").attr("stroke-width",2);
});
yTicks.slice(1,-1).forEach(v => {
  const strong = (v === 25 || v === 30);
  grid.append("line").attr("x1",L).attr("x2",R).attr("y1",y(v)).attr("y2",y(v))
    .attr("stroke", strong ? "#dcdcdc" : "#f1f1f1").attr("stroke-width",2);
  if (strong) {
    grid.append("line").attr("x1",L).attr("x2",L+14).attr("y1",y(v)).attr("y2",y(v))
      .attr("stroke","#404040").attr("stroke-width",2);
    grid.append("line").attr("x1",R-14).attr("x2",R).attr("y1",y(v)).attr("y2",y(v))
      .attr("stroke","#505050").attr("stroke-width",2);
  }
});

// axis lines
svg.append("line").attr("x1",L).attr("x2",L).attr("y1",T-2).attr("y2",B)
  .attr("stroke","#c2c2c2").attr("stroke-width",4);
svg.append("line").attr("x1",L).attr("x2",R).attr("y1",T).attr("y2",T)
  .attr("stroke","#c2c2c2").attr("stroke-width",4);

// tick labels
svg.append("g").selectAll("text").data(yTicks).join("text")
  .attr("x",128).attr("y",d=>y(d)).attr("dy","0.35em").attr("text-anchor","end")
  .attr("font-size",29).attr("fill","#262626").text(d=>d);
svg.append("g").selectAll("text").data(xTickHours).join("text")
  .attr("x",d=>x(d)).attr("y",1423).attr("text-anchor","middle")
  .attr("font-size",29).attr("fill","#262626").text((d,i)=>xTickLabels[i]);

// axis titles
svg.append("text").attr("x",(L+R)/2).attr("y",1463).attr("text-anchor","middle")
  .attr("font-size",31).attr("fill","#262626").text("Time of Day");
const yl = svg.append("text").attr("transform","translate(79,762) rotate(-90)")
  .attr("text-anchor","middle").attr("font-size",31).attr("fill","#262626");
yl.append("tspan").text("Temperature (");
yl.append("tspan").attr("dy",-11).attr("font-size",20).text("o");
yl.append("tspan").attr("dy",11).text(" C)");

// lines
svg.append("clipPath").attr("id","clip").append("rect")
  .attr("x",L).attr("y",T).attr("width",R-L).attr("height",B-T);
const line = d3.line().x(d=>x(d[0])).y(d=>y(d[1]));
const plot = svg.append("g").attr("clip-path","url(#clip)");
seriesData.forEach((s,i) => {
  plot.append("path").attr("d",line(s)).attr("fill","none")
    .attr("stroke",seriesColors[i]).attr("stroke-width",seriesWidths[i])
    .attr("stroke-linejoin","round");
});

// legend
const lg = svg.append("g");
lg.append("rect").attr("x",193).attr("y",250).attr("width",355).attr("height",360)
  .attr("fill","#fff").attr("stroke","#e4e4e4").attr("stroke-width",2);
lg.append("line").attr("x1",193).attr("x2",193).attr("y1",250).attr("y2",611).attr("stroke","#b0b0b0").attr("stroke-width",2);
lg.append("line").attr("x1",192).attr("x2",548).attr("y1",610).attr("y2",610).attr("stroke","#b0b0b0").attr("stroke-width",2);
seriesNames.forEach((n,i) => {
  const yy = 272 + i*35.2;
  lg.append("line").attr("x1",204).attr("x2",262).attr("y1",yy).attr("y2",yy)
    .attr("stroke",seriesColors[i]).attr("stroke-width",seriesWidths[i]);
  lg.append("text").attr("x",267).attr("y",yy).attr("dy","0.36em")
    .attr("font-size",27).attr("fill","#111").text(n);
});
</script>
</body></html>
